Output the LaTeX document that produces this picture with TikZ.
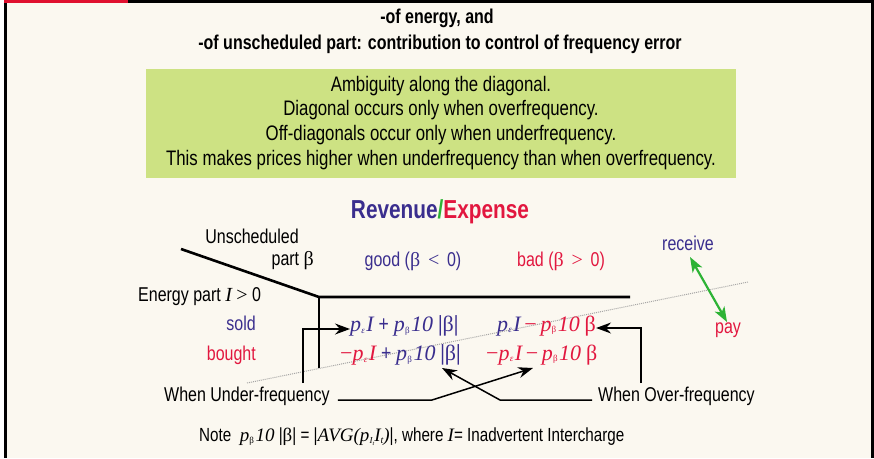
\documentclass[tikz,border=0pt]{standalone}
\usepackage{fontspec}
\setmainfont{Liberation Sans}[FakeStretch=0.8]
\newfontfamily\ser{Liberation Serif}
\usetikzlibrary{arrows.meta}
\definecolor{bg}{HTML}{FBF8F0}
\definecolor{frred}{HTML}{E0102F}
\definecolor{rblue}{HTML}{3A2E8E}
\definecolor{rred}{HTML}{E2173F}
\definecolor{agreen}{HTML}{2DB335}
\definecolor{boxgreen}{HTML}{CDE283}
\newcommand{\fit}[1]{{\ser\itshape #1}}
\newcommand{\pe}{{\ser\itshape p\kern0.2pt\raisebox{-1.5pt}{\fontsize{9}{9}\selectfont ε}\kern1.5pt}}
\newcommand{\pb}{{\ser\itshape p\kern0.2pt\raisebox{-1.5pt}{\fontsize{9}{9}\selectfont\upshape β}\kern1.5pt}}
\newcommand{\bt}{{\ser\upshape β}}
\newcommand{\mi}{{\ser −}}
\begin{document}
\begin{tikzpicture}[x=1pt,y=-1pt,
  txt/.style={inner sep=0pt,font=\fontsize{20}{24}\selectfont},
  gtxt/.style={inner sep=0pt,font=\fontsize{21}{24}\selectfont},
  ttl/.style={inner sep=0pt,font=\fontsize{20}{24}\selectfont\bfseries},
  frm/.style={inner sep=0pt,font=\fontsize{22}{24}\selectfont},
  conn/.style={line width=1.5pt,-{Stealth[length=15pt,width=11pt,inset=5pt]}},
  thick line/.style={line width=2.6pt}]
\useasboundingbox (0,0) rectangle (874,458);
\fill[bg] (7,3) rectangle (871,458);
\fill[black] (4,0) rectangle (7,458);
\fill[black] (871,0) rectangle (874,458);
\fill[black] (128,0) rectangle (874,3);
\fill[frred] (4,0) rectangle (128,3);

\node[ttl] (t1) at (437,18) {-of energy, and};
\node[ttl] (t2) at (440,44) {-of unscheduled part: contribution to control of frequency error};

\fill[boxgreen] (146,69) rectangle (736,178);
\node[gtxt] (g1) at (441,86) {Ambiguity along the diagonal.};
\node[gtxt] (g2) at (441,110) {Diagonal occurs only when overfrequency.};
\node[gtxt] (g3) at (441,135) {Off-diagonals occur only when underfrequency.};
\node[gtxt] (g4) at (441,160) {This makes prices higher when underfrequency than when overfrequency.};

\node[inner sep=0pt,font=\fontsize{26}{28}\selectfont\bfseries] (rev) at (440,212) {\textcolor{rblue}{Revenue}\textcolor{agreen}{/}\textcolor{rred}{Expense}};

\node[txt] (uns) at (252,236) {Unscheduled};
\node[txt,anchor=east] (partb) at (314,261) {part \bt};
\node[txt,text=rblue] (good) at (413,261) {good (\bt\,\ {\ser <}\ \,0)};
\node[txt,text=rred] (bad) at (561,261) {bad (\bt\,\ {\ser >}\ \,0)};
\node[txt,text=rblue] (recv) at (688,243) {receive};
\node[txt,text=rred] (pay) at (728,330) {pay};
\node[txt,anchor=west] (energy) at (138,297) {Energy part \fit{I} {\ser >} 0};
\node[txt,anchor=east,text=rblue] (sold) at (256,323) {sold};
\node[txt,anchor=east,text=rred] (bought) at (256,355) {bought};

\coordinate (ua) at (181,249);
\coordinate (ub) at (319,297);
\coordinate (uc) at (630,297);
\coordinate (ud) at (319,368);
\draw[thick line] (ua) -- (ub) -- (uc);
\draw[thick line] (ub) -- (ud);

\coordinate (d1) at (247,383);
\coordinate (d2) at (748,282);
\draw[gray!70, densely dotted, line width=1pt] (d1) -- (d2);

\node[frm,anchor=west,text=rblue] (f1) at (350,326) {\pe\fit{I}\ + \pb\fit{10} |\bt|};
\node[frm,anchor=west] (f2) at (497,326) {\textcolor{rblue}{\pe\fit{I}}\textcolor{rred}{\,\mi\,\pb\fit{10} \bt}};
\node[frm,anchor=west] (f3) at (340,355) {\textcolor{rred}{\mi\pe\fit{I}}\ \textcolor{rblue}{+ \pb\fit{10} |\bt|}};
\node[frm,anchor=west,text=rred] (f4) at (486,355) {\mi\pe\fit{I}\,\mi\,\pb\fit{10} \bt};

\coordinate (ga) at (690,257);
\coordinate (gb) at (727,322);
\draw[agreen,line width=2.2pt,{Stealth[length=15pt,width=11pt,inset=4pt]}-{Stealth[length=15pt,width=11pt,inset=4pt]}] (ga) -- (gb);

\node[txt,anchor=west] (under) at (164,396) {When Under-frequency};
\node[txt,anchor=west] (over) at (598,396) {When Over-frequency};

\draw[conn] (303,383) -- (303,329) -- (f1.west |- 0,329);
\draw[conn] (under.east) ++(8,4) -- (432,400) -- (533,368);
\draw[conn] (641,383) -- (641,328) -- (f2.east |- 0,328);
\draw[conn] (over.west) ++(-6,4) -- (500,400) -- (442,368);

\node[txt,anchor=west,font=\fontsize{19}{22}\selectfont] (note) at (199,437) {Note \ \pb\fit{10} |\bt| = |\fit{AVG(}{\ser\itshape p\kern0.2pt\raisebox{-2pt}{\fontsize{9}{9}\selectfont I\raisebox{-1.5pt}{\fontsize{6}{6}\selectfont t}}}\fit{I\raisebox{-1.5pt}{\fontsize{10}{10}\selectfont t})}|, where \fit{I}= Inadvertent Intercharge};
\end{tikzpicture}
\end{document}
